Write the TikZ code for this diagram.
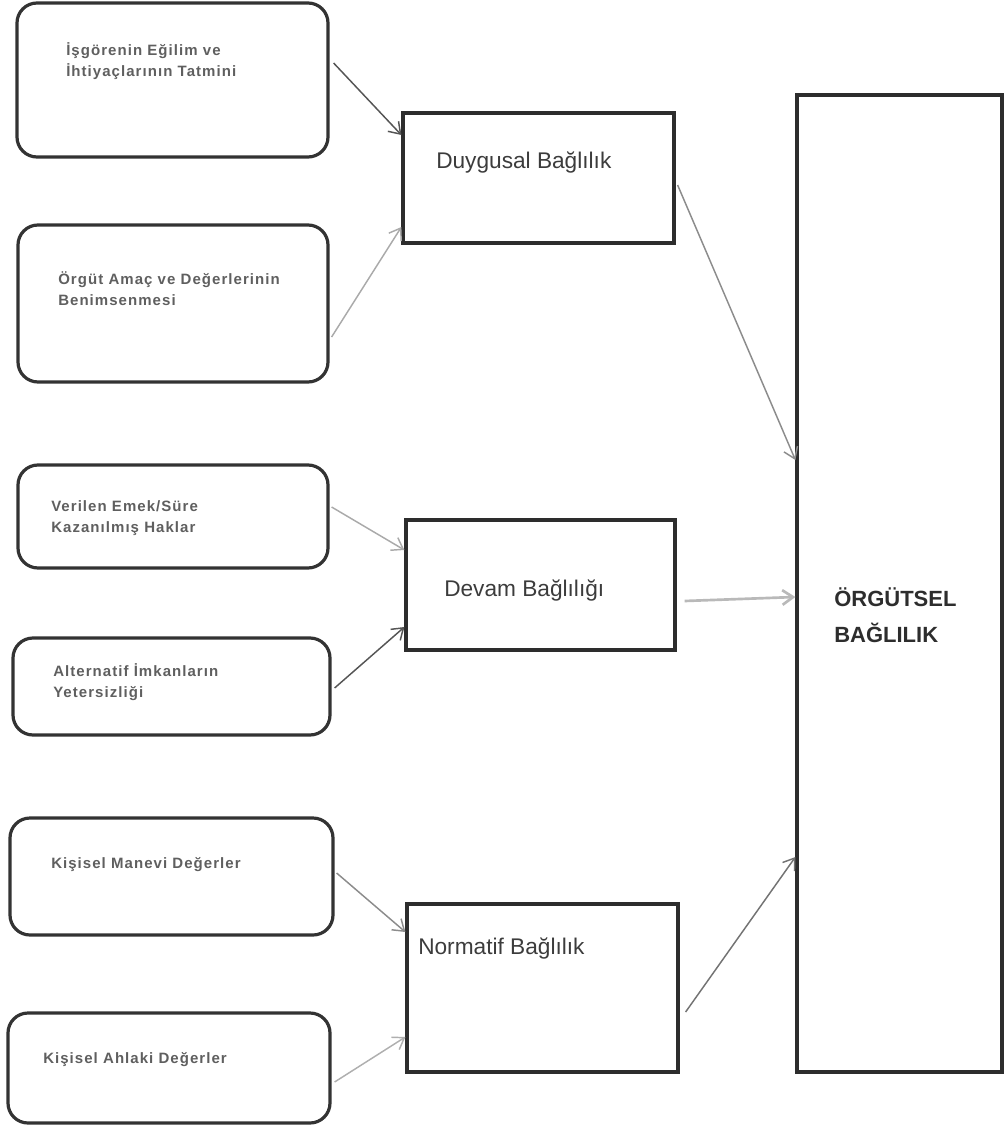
\documentclass[tikz,border=0pt]{standalone}
\usepackage{fontspec}
\setmainfont{Liberation Sans}
\newfontfamily\srcfont[LetterSpace=7]{Liberation Sans}
\usetikzlibrary{arrows.meta,calc,fit}

\begin{document}
\begin{tikzpicture}[x=0.75pt,y=0.75pt,yscale=-1,xscale=1,
  srcbox/.style={draw, color={rgb, 255:red, 51; green, 51; blue, 51 }, line width=2.4, rounded corners=15, inner sep=0},
  dimbox/.style={draw, color={rgb, 255:red, 45; green, 45; blue, 45 }, line width=2.4, inner sep=0},
  srctext/.style={anchor=west, inner sep=0.75pt, align=left, color={rgb, 255:red, 95; green, 95; blue, 95 }, font=\srcfont\bfseries\fontsize{11.25}{15.5}\selectfont},
  dimtext/.style={anchor=west, inner sep=0.75pt, color={rgb, 255:red, 60; green, 60; blue, 60 }, font=\fontsize{17}{20}\selectfont},
  link/.style={line width=1.1, -{Straight Barb[length=8pt,width=11pt]}}
]
\useasboundingbox (0,0) rectangle (1004,1127);

%Rounded Rect
\node [srcbox, fit={(17,3) (328,157)}] (b1) {};
\node [srcbox, fit={(18,225) (328,382)}] (b2) {};
\node [srcbox, fit={(18,465) (328,568)}] (b3) {};
\node [srcbox, fit={(13,638) (330,735)}] (b4) {};
\node [srcbox, fit={(10,818) (333,935)}] (b5) {};
\node [srcbox, fit={(8,1013) (330,1123)}] (b6) {};

%Shape: Rectangle
\node [dimbox, fit={(403,113) (674,243)}] (duyg) {};
\node [dimbox, fit={(406,520) (675,650)}] (devam) {};
\node [dimbox, fit={(407,904) (678,1072)}] (norm) {};
\node [dimbox, fit={(797,95) (1002,1072)}] (org) {};

% Text Node
\node [srctext] (t1) at (65,61) {İşgörenin Eğilim ve\\İhtiyaçlarının Tatmini};
\node [srctext] (t2) at (57,288.5) {Örgüt Amaç ve Değerlerinin\\Benimsenmesi};
\node [srctext] (t3) at (50,518) {Verilen Emek/Süre\\Kazanılmış Haklar};
\node [srctext] (t4) at (52,682) {Alternatif İmkanların\\Yetersizliği};
\node [srctext] (t5) at (50,865) {Kişisel Manevi Değerler};
\node [srctext] (t6) at (42,1060) {Kişisel Ahlaki Değerler};
% Text Node
\node [dimtext] (tduyg) at (435,162) {Duygusal Bağlılık};
\node [dimtext] (tdevam) at (443,590) {Devam Bağlılığı};
\node [dimtext] (tnorm) at (417,948) {Normatif Bağlılık};
\node [dimtext, align=left, font=\bfseries\fontsize{16.5}{27}\selectfont, color={rgb, 255:red, 45; green, 45; blue, 45 }] (torg) at (833,615) {ÖRGÜTSEL\\BAĞLILIK};

%Straight Lines
\draw [link, color={rgb, 255:red, 85; green, 85; blue, 85 }] ($(b1.east)+(4,-17)$) -- ($(duyg.west)+(0,-43)$);
\draw [link, color={rgb, 255:red, 170; green, 170; blue, 170 }] ($(b2.east)+(2,33.5)$) -- ($(duyg.west)+(0,49)$);
\draw [link, color={rgb, 255:red, 170; green, 170; blue, 170 }] ($(b3.east)+(2,-9.5)$) -- ($(devam.west)+(0,-35)$);
\draw [link, color={rgb, 255:red, 85; green, 85; blue, 85 }] ($(b4.east)+(3,1.5)$) -- ($(devam.west)+(0,42)$);
\draw [link, color={rgb, 255:red, 140; green, 140; blue, 140 }] ($(b5.east)+(2,-3.5)$) -- ($(norm.west)+(0,-56)$);
\draw [link, color={rgb, 255:red, 175; green, 175; blue, 175 }] ($(b6.east)+(3,14)$) -- ($(norm.west)+(0,49)$);
%Straight Lines
\draw [link, color={rgb, 255:red, 140; green, 140; blue, 140 }] ($(duyg.east)+(2,7)$) -- ($(org.west)+(0,-123.5)$);
\draw [link, line width=2, color={rgb, 255:red, 185; green, 185; blue, 185 }] ($(devam.east)+(8,16)$) -- ($(org.west)+(0,13.5)$);
\draw [link, color={rgb, 255:red, 115; green, 115; blue, 115 }] ($(norm.east)+(6,24)$) -- ($(org.west)+(0,273.5)$);

\end{tikzpicture}
\end{document}
